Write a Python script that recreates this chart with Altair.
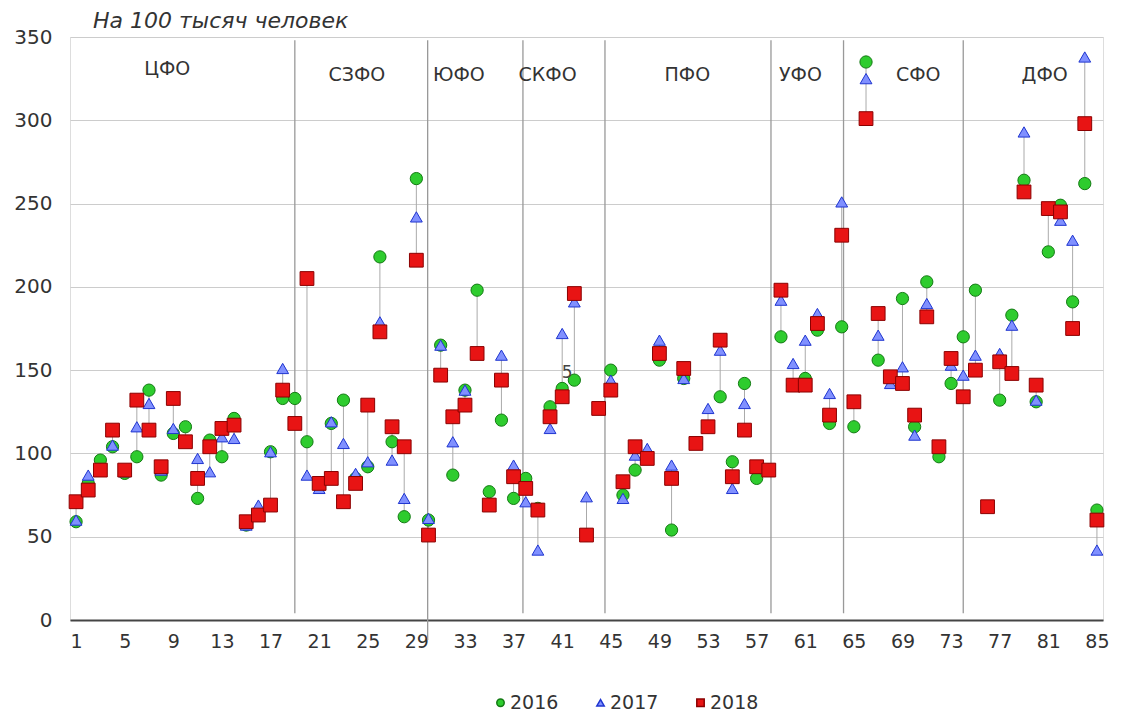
import altair as alt
import pandas as pd

# ---- data ----
regions = list(range(1, 86))
v2016 = [59, 82, 96, 104, 88, 98, 138, 87, 112, 116, 73, 108, 98, 121, 57, 63, 101, 133,
         133, 107, 80, 118, 132, 85, 92, 218, 107, 62, 265,
         60, 165, 87, 138, 198, 77, 120, 73,
         85, 67, 128, 139, 144, 51, 127,
         150, 75, 90, 98, 156, 54, 145, 106, 116, 134, 95, 142, 85, 90,
         170, 141, 145, 174, 118, 176,
         116, 335, 156, 146, 193, 116, 203, 98, 142, 170,
         198, 68, 132, 183, 264, 131, 221, 249, 191, 262, 66]
v2017 = [60, 87, 91, 105, 89, 116, 130, 90, 115, 107, 97, 89, 110, 109, 57, 69, 101, 151,
         118, 87, 79, 119, 106, 88, 95, 179, 96, 73, 242,
         61, 165, 107, 138, 160, 70, 159, 93,
         71, 42, 115, 172, 191, 74, 127,
         144, 73, 99, 103, 168, 93, 145, 106, 127, 162, 79, 130, 92, 90,
         192, 154, 168, 184, 136, 251,
         131, 325, 171, 142, 152, 111, 190, 104, 153, 147,
         159, 68, 160, 177, 293, 132, 247, 240, 228, 338, 42]
v2018 = [71, 78, 90, 114, 90, 132, 114, 92, 133, 107, 85, 104, 115, 117, 59, 63, 69, 138,
         118, 205, 82, 85, 71, 82, 129, 173, 116, 104, 216,
         51, 147, 122, 129, 160, 69, 144, 86,
         79, 66, 122, 134, 196, 51, 127,
         138, 83, 104, 97, 160, 85, 151, 106, 116, 168, 86, 114, 92, 90,
         198, 141, 141, 178, 123, 231,
         131, 301, 184, 146, 142, 123, 182, 104, 157, 134,
         150, 68, 155, 148, 257, 141, 247, 245, 175, 298, 60]
years = ["2016", "2017", "2018"]
fill_colors = ["#2ecc2e", "#8090ff", "#e81414"]
stroke_colors = ["#137a13", "#1f35d0", "#8b0000"]
shapes = ["circle", "triangle-up", "square"]
marker_sizes = [150, 140, 190]

x_ticks = list(range(1, 86, 4))
y_ticks = [0, 50, 100, 150, 200, 250, 300, 350]

district_names = ["ЦФО", "СЗФО", "ЮФО", "СКФО", "ПФО", "УФО", "СФО", "ДФО"]
district_x = [8.5, 24.1, 32.5, 39.8, 51.3, 60.6, 70.3, 80.7]
district_y = [331, 327, 327, 327, 327, 327, 327, 327]

separator_x = [19.0, 29.93, 37.77, 44.52, 58.18, 64.15, 74.0]
separator_bottom = [4, -12, 4, 4, 4, 4, 4]
separator_top = [348, 348, 348, 348, 348, 348, 348]

stray_label = ["5"]
stray_x = [41.4]
stray_y = [148]

# ---- tables ----
rows = []
for yr, vals in zip(years, [v2016, v2017, v2018]):
    for r, v in zip(regions, vals):
        rows.append({"region": r, "year": yr, "value": v})
pts = pd.DataFrame(rows)

rng = pd.DataFrame({
    "region": regions,
    "lo": [min(a, b, c) for a, b, c in zip(v2016, v2017, v2018)],
    "hi": [max(a, b, c) for a, b, c in zip(v2016, v2017, v2018)],
})
seps = pd.DataFrame({"x": separator_x, "y": separator_top, "y2": separator_bottom})
dist = pd.DataFrame({"name": district_names, "x": district_x, "y": district_y})
stray = pd.DataFrame({"t": stray_label, "x": stray_x, "y": stray_y})

FONT = "DejaVu Sans"
xs = alt.Scale(domain=[0.5, 85.5], nice=False, zero=False)
ys = alt.Scale(domain=[0, 350], nice=False)
color_scale = alt.Scale(domain=years, range=fill_colors)
shape_scale = alt.Scale(domain=years, range=shapes)
stroke_scale = alt.Scale(domain=years, range=stroke_colors)

sep_layer = alt.Chart(seps).mark_rule(color="#999999", strokeWidth=1.3).encode(
    x=alt.X("x:Q", scale=xs,
            axis=alt.Axis(values=x_ticks, title=None, grid=False, ticks=False,
                          labelFontSize=19, labelFont=FONT, labelColor="#333333",
                          labelPadding=12, domainColor="#444444", domainWidth=2,
                          labelFlush=False)),
    y=alt.Y("y:Q", scale=ys,
            axis=alt.Axis(values=y_ticks, title=None, ticks=False, domain=False,
                          labelFontSize=20, labelFont=FONT, labelColor="#333333",
                          labelPadding=18, gridColor="#cccccc", gridWidth=1)),
    y2="y2:Q",
)

conn_layer = alt.Chart(rng).mark_rule(color="#aaaaaa", strokeWidth=1).encode(
    x=alt.X("region:Q", scale=xs), y=alt.Y("lo:Q", scale=ys), y2="hi:Q"
)

legend = alt.Legend(title=None, orient="none", direction="horizontal",
                    legendX=421, legendY=656, labelFontSize=19, labelFont=FONT,
                    labelColor="#333333", symbolSize=55, columnPadding=32,
                    labelOffset=0)

# small copies of the points, drawn underneath the real markers; they carry the legend
legend_layer = alt.Chart(pts).mark_point(filled=True, opacity=1, strokeWidth=1, size=50).encode(
    x=alt.X("region:Q", scale=xs),
    y=alt.Y("value:Q", scale=ys),
    color=alt.Color("year:N", scale=color_scale, legend=legend),
    shape=alt.Shape("year:N", scale=shape_scale, legend=legend),
    stroke=alt.Stroke("year:N", scale=stroke_scale, legend=None),
)

point_layers = []
for yr, sz in zip(years, marker_sizes):
    point_layers.append(
        alt.Chart(pts).transform_filter(alt.datum.year == yr)
        .mark_point(filled=True, opacity=1, strokeWidth=1, size=sz)
        .encode(
            x=alt.X("region:Q", scale=xs),
            y=alt.Y("value:Q", scale=ys),
            color=alt.Color("year:N", scale=color_scale, legend=None),
            shape=alt.Shape("year:N", scale=shape_scale, legend=None),
            stroke=alt.Stroke("year:N", scale=stroke_scale, legend=None),
        )
    )

dist_layer = alt.Chart(dist).mark_text(fontSize=19, font=FONT, color="#333333").encode(
    x=alt.X("x:Q", scale=xs), y=alt.Y("y:Q", scale=ys), text="name:N"
)

stray_layer = alt.Chart(stray).mark_text(fontSize=17, font=FONT, color="#444444").encode(
    x=alt.X("x:Q", scale=xs), y=alt.Y("y:Q", scale=ys), text="t:N"
)

chart = alt.layer(sep_layer, conn_layer, legend_layer, *point_layers, dist_layer, stray_layer).properties(
    width=1033, height=583,
    title=alt.TitleParams("На 100 тысяч человек", anchor="start", frame="group", dx=23, offset=-6,
                          fontSize=22, font=FONT, fontStyle="italic", fontWeight="normal",
                          color="#333333"),
    autosize=alt.AutoSizeParams(type="none"),
    padding={"left": 62, "top": 29, "right": 10, "bottom": 100},
).configure_view(stroke=None).configure(background="white")

chart.save("out.html", embed_options={"renderer": "svg", "actions": False})
